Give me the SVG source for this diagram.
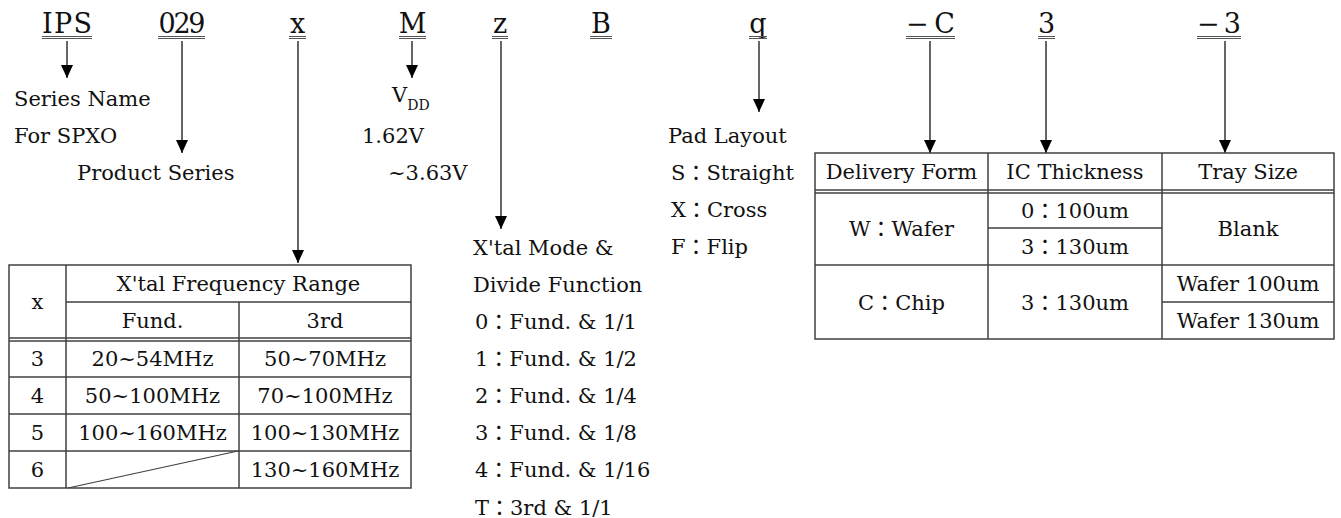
<svg xmlns="http://www.w3.org/2000/svg" width="1341" height="518" viewBox="0 0 1341 518">
<style>
text{font-family:"DejaVu Serif","Noto Sans CJK JP",serif;fill:#111;font-size:21px}
.top{font-size:27px;text-anchor:middle}
.c{text-anchor:middle}
.ul{stroke:#555;stroke-width:1}
.conn line{stroke:#333;stroke-width:1.5}
.grid line,.grid rect{stroke:#404040;stroke-width:1.5;fill:none}
</style>
<defs>
<marker id="ah" markerWidth="13" markerHeight="12" refX="13" refY="6" orient="auto" markerUnits="userSpaceOnUse" viewBox="0 0 13 12">
<path d="M0,0 L13,6 L0,12 Z" fill="#000"/>
</marker>
</defs>
<rect width="1341" height="518" fill="#fff"/>

<g id="code">
<g id="lbl-ips"><text class="top" x="67" y="33" textLength="50">IPS</text><line class="ul" x1="42" y1="36.5" x2="92" y2="36.5"/><line class="ul" x1="42" y1="38.5" x2="92" y2="38.5"/></g>
<g id="lbl-029"><text class="top" x="182" y="33" textLength="47">029</text><line class="ul" x1="158" y1="36.5" x2="205" y2="36.5"/><line class="ul" x1="158" y1="38.5" x2="205" y2="38.5"/></g>
<g id="lbl-x"><text class="top" x="297.5" y="33">x</text><line class="ul" x1="289" y1="36.5" x2="306" y2="36.5"/><line class="ul" x1="289" y1="38.5" x2="306" y2="38.5"/></g>
<g id="lbl-m"><text class="top" x="412.5" y="33" textLength="27">M</text><line class="ul" x1="399" y1="36.5" x2="426" y2="36.5"/><line class="ul" x1="399" y1="38.5" x2="426" y2="38.5"/></g>
<g id="lbl-z"><text class="top" x="500" y="33">z</text><line class="ul" x1="492" y1="36.5" x2="508" y2="36.5"/><line class="ul" x1="492" y1="38.5" x2="508" y2="38.5"/></g>
<g id="lbl-b"><text class="top" x="601" y="33">B</text><line class="ul" x1="590" y1="36.5" x2="612" y2="36.5"/><line class="ul" x1="590" y1="38.5" x2="612" y2="38.5"/></g>
<g id="lbl-q"><text class="top" x="758" y="33">q</text><line class="ul" x1="749" y1="36.5" x2="767" y2="36.5"/><line class="ul" x1="749" y1="38.5" x2="767" y2="38.5"/></g>
<g id="lbl-c"><text class="top" x="930.5" y="33" textLength="49">−C</text><line class="ul" x1="906" y1="36.5" x2="955" y2="36.5"/><line class="ul" x1="906" y1="38.5" x2="955" y2="38.5"/></g>
<g id="lbl-3"><text class="top" x="1046.5" y="33">3</text><line class="ul" x1="1038" y1="36.5" x2="1055" y2="36.5"/><line class="ul" x1="1038" y1="38.5" x2="1055" y2="38.5"/></g>
<g id="lbl-m3"><text class="top" x="1219" y="33" textLength="44">−3</text><line class="ul" x1="1197" y1="36.5" x2="1241" y2="36.5"/><line class="ul" x1="1197" y1="38.5" x2="1241" y2="38.5"/></g>
</g>

<g id="connectors" class="conn">
<line x1="67" y1="41" x2="67" y2="78" marker-end="url(#ah)"/>
<line x1="182" y1="41" x2="182" y2="153" marker-end="url(#ah)"/>
<line x1="298" y1="41" x2="298" y2="263" marker-end="url(#ah)"/>
<line x1="412" y1="41" x2="412" y2="78" marker-end="url(#ah)"/>
<line x1="501" y1="41" x2="501" y2="229" marker-end="url(#ah)"/>
<line x1="759" y1="41" x2="759" y2="112" marker-end="url(#ah)"/>
<line x1="930" y1="41" x2="930" y2="153" marker-end="url(#ah)"/>
<line x1="1046" y1="41" x2="1046" y2="153" marker-end="url(#ah)"/>
<line x1="1225" y1="41" x2="1225" y2="153" marker-end="url(#ah)"/>
</g>

<g id="series-name">
<text x="14" y="106">Series Name</text>
<text x="14" y="143">For SPXO</text>
</g>
<g id="product-series"><text x="77" y="180">Product Series</text></g>
<g id="vdd">
<text x="392" y="102">V<tspan font-size="14" dy="8">DD</tspan></text>
<text x="362" y="143">1.62V</text>
<text x="388" y="180">~3.63V</text>
</g>
<g id="xtal-mode">
<text x="473" y="255">X'tal Mode &amp;</text>
<text x="473" y="292">Divide Function</text>
<text x="475" y="329">0：Fund. &amp; 1/1</text>
<text x="475" y="366">1：Fund. &amp; 1/2</text>
<text x="475" y="403">2：Fund. &amp; 1/4</text>
<text x="475" y="440">3：Fund. &amp; 1/8</text>
<text x="475" y="477">4：Fund. &amp; 1/16</text>
<text x="475" y="515">T：3rd &amp; 1/1</text>
</g>
<g id="pad-layout">
<text x="668" y="143">Pad Layout</text>
<text x="671" y="180">S：Straight</text>
<text x="671" y="217">X：Cross</text>
<text x="671" y="254">F：Flip</text>
</g>

<g id="freq-table">
<g class="grid">
<rect x="9" y="265" width="402" height="223"/>
<line x1="66" y1="265" x2="66" y2="488"/>
<line x1="66" y1="302" x2="411" y2="302"/>
<line x1="239" y1="302" x2="239" y2="488"/>
<line x1="9" y1="338" x2="411" y2="338"/>
<line x1="9" y1="341" x2="411" y2="341"/>
<line x1="9" y1="377" x2="411" y2="377"/>
<line x1="9" y1="414" x2="411" y2="414"/>
<line x1="9" y1="451" x2="411" y2="451"/>
<line x1="68" y1="488" x2="238" y2="451" style="stroke-width:1.2"/>
</g>
<text class="c" x="37.5" y="309">x</text>
<text class="c" x="238.5" y="291">X'tal Frequency Range</text>
<text class="c" x="152.5" y="328">Fund.</text>
<text class="c" x="325" y="328">3rd</text>
<text class="c" x="37.5" y="366">3</text>
<text class="c" x="152.5" y="366">20~54MHz</text>
<text class="c" x="325" y="366">50~70MHz</text>
<text class="c" x="37.5" y="403">4</text>
<text class="c" x="152.5" y="403">50~100MHz</text>
<text class="c" x="325" y="403">70~100MHz</text>
<text class="c" x="37.5" y="440">5</text>
<text class="c" x="152.5" y="440">100~160MHz</text>
<text class="c" x="325" y="440">100~130MHz</text>
<text class="c" x="37.5" y="477">6</text>
<text class="c" x="325" y="477">130~160MHz</text>
</g>

<g id="delivery-table">
<g class="grid">
<rect x="815" y="153" width="519" height="186"/>
<line x1="988" y1="153" x2="988" y2="339"/>
<line x1="1162" y1="153" x2="1162" y2="339"/>
<line x1="815" y1="190" x2="1334" y2="190"/>
<line x1="815" y1="193" x2="1334" y2="193"/>
<line x1="988" y1="228" x2="1162" y2="228"/>
<line x1="815" y1="265" x2="1334" y2="265"/>
<line x1="1162" y1="302" x2="1334" y2="302"/>
</g>
<text class="c" x="901.5" y="179">Delivery Form</text>
<text class="c" x="1075" y="179">IC Thickness</text>
<text class="c" x="1248" y="179">Tray Size</text>
<text class="c" x="901.5" y="236">W：Wafer</text>
<text class="c" x="1075" y="218">0：100um</text>
<text class="c" x="1075" y="254">3：130um</text>
<text class="c" x="1248" y="236">Blank</text>
<text class="c" x="901.5" y="310">C：Chip</text>
<text class="c" x="1075" y="310">3：130um</text>
<text class="c" x="1248" y="291">Wafer 100um</text>
<text class="c" x="1248" y="328">Wafer 130um</text>
</g>
</svg>
